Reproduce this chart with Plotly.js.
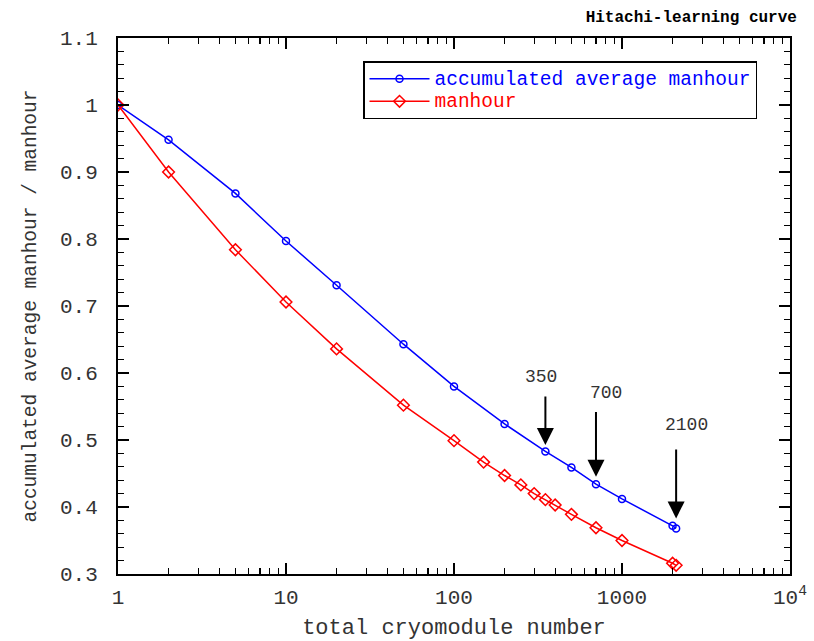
<!DOCTYPE html>
<html>
<head>
<meta charset="utf-8">
<script src="https://cdn.plot.ly/plotly-3.0.1.min.js"></script>
<style>html,body{margin:0;padding:0;background:#fff;}#chart{width:814px;height:641px;}</style>
</head>
<body>
<div id="chart"></div>
<script>
// Data
const avgX = [1, 2, 5, 10, 20, 50, 100, 200, 350, 500, 700, 1000, 2000, 2100];
const avgY = [1.0, 0.948, 0.868, 0.797, 0.731, 0.643, 0.580, 0.524, 0.483, 0.459, 0.434, 0.412, 0.372, 0.368];
const mhX = [1, 2, 5, 10, 20, 50, 100, 150, 200, 250, 300, 350, 400, 500, 700, 1000, 2000, 2100];
const mhY = [1.0, 0.900, 0.784, 0.706, 0.636, 0.552, 0.499, 0.467, 0.447, 0.433, 0.420, 0.411, 0.403, 0.389, 0.369, 0.350, 0.316, 0.313];

const arrowLabels = ['350', '700', '2100'];
const arrowX = [350, 700, 2100];
const arrowTipY = [0.4925, 0.445, 0.383];
const arrowTailY = [0.567, 0.544, 0.488];
const labelX = [328, 803, 2404];
const labelY = [0.594, 0.570, 0.522];

const xTickVals = [1, 10, 100, 1000, 10000];
const xTickText = ['1', '10', '100', '1000', '10<sup>4</sup>'];
const yTickVals = [0.3, 0.4, 0.5, 0.6, 0.7, 0.8, 0.9, 1.0, 1.1];
const yTickText = ['0.3', '0.4', '0.5', '0.6', '0.7', '0.8', '0.9', '1', '1.1'];

const xMinor = [];
[1, 10, 100, 1000].forEach(d => { for (let k = 2; k <= 9; k++) xMinor.push(d * k); });

const FONT = 'Liberation Mono, Courier New, monospace';
const TXT = '#333';

const traces = [
  {
    x: avgX, y: avgY, type: 'scatter', mode: 'lines+markers',
    name: '<span style="color:#0000ff;font-size:19.5px">accumulated average manhour</span>',
    line: {color: '#0000ff', width: 1.5},
    marker: {symbol: 'circle-open', size: 7, color: '#0000ff', line: {width: 1.5, color: '#0000ff'}}
  },
  {
    x: mhX, y: mhY, type: 'scatter', mode: 'lines+markers',
    name: '<span style="color:#ff0000;font-size:19.5px">manhour</span>',
    line: {color: '#ff0000', width: 1.5},
    marker: {symbol: 'diamond-open', size: 9, color: '#ff0000', line: {width: 1.5, color: '#ff0000'}}
  }
];

const annotations = [];
for (let i = 0; i < arrowX.length; i++) {
  annotations.push({
    x: Math.log10(arrowX[i]), y: arrowTipY[i], xref: 'x', yref: 'y',
    ax: Math.log10(arrowX[i]), ay: arrowTailY[i], axref: 'x', ayref: 'y',
    text: '', showarrow: true, arrowhead: 2, arrowsize: 1.7, arrowwidth: 2, arrowcolor: '#000'
  });
  annotations.push({
    x: Math.log10(labelX[i]), y: labelY[i], xref: 'x', yref: 'y',
    text: arrowLabels[i], showarrow: false, font: {family: FONT, size: 18, color: TXT}
  });
}

const axisCommon = {
  showgrid: false, zeroline: false, showline: true, linecolor: '#000', linewidth: 2,
  mirror: 'allticks', ticks: 'inside', ticklen: 11, tickwidth: 1.5, tickcolor: '#000',
  tickfont: {family: FONT, size: 21, color: TXT}
};

const layout = {
  width: 814, height: 641,
  margin: {l: 118, r: 24, t: 38, b: 67},
  paper_bgcolor: '#fff', plot_bgcolor: '#fff',
  font: {family: FONT, color: TXT},
  title: {
    text: '<b>Hitachi-learning curve</b>', x: 0.979, xanchor: 'right', xref: 'container',
    y: 0.975, yanchor: 'middle', yref: 'container',
    font: {family: FONT, size: 16, color: '#000'}
  },
  xaxis: Object.assign({}, axisCommon, {
    type: 'log', range: [0, 4], tickmode: 'array', tickvals: xTickVals, ticktext: xTickText,
    ticklabelstandoff: 3,
    minor: {tickmode: 'array', tickvals: xMinor, ticks: 'inside', ticklen: 6, tickwidth: 1.3, tickcolor: '#000'},
    title: {text: 'total cryomodule number', font: {family: FONT, size: 22, color: TXT}, standoff: 10}
  }),
  yaxis: Object.assign({}, axisCommon, {
    range: [0.3, 1.1], tickmode: 'array', tickvals: yTickVals, ticktext: yTickText,
    ticklabelstandoff: 14,
    minor: {dtick: 0.02, ticks: 'inside', ticklen: 6, tickwidth: 1.3, tickcolor: '#000'},
    title: {text: 'accumulated average manhour / manhour', font: {family: FONT, size: 19.5, color: TXT}, standoff: 18}
  }),
  showlegend: true,
  legend: {
    x: 0.3646, y: 0.957, xanchor: 'left', yanchor: 'top',
    bgcolor: '#fff', bordercolor: '#000', borderwidth: 1.5,
    font: {family: FONT, size: 15}, tracegroupgap: 0, itemwidth: 60
  },
  annotations: annotations
};

Plotly.newPlot('chart', traces, layout, {displayModeBar: false, staticPlot: true});
</script>
</body>
</html>
